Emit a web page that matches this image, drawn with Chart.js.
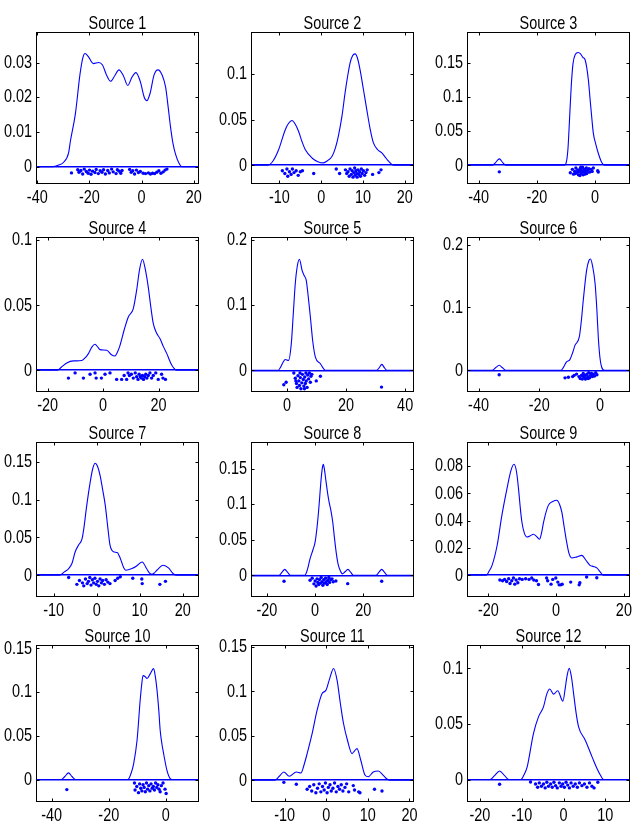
<!DOCTYPE html>
<html><head><meta charset="utf-8">
<script src="https://cdn.jsdelivr.net/npm/chart.js@4.4.1/dist/chart.umd.min.js"></script>
<style>
html,body{margin:0;padding:0;background:#fff;width:640px;height:835px;overflow:hidden;position:relative;}
canvas{position:absolute;}
</style></head><body>
<script>
// ---------- DATA ----------
const titles = ["Source 1","Source 2","Source 3","Source 4","Source 5","Source 6","Source 7","Source 8","Source 9","Source 10","Source 11","Source 12"];

const xTickVals = [[-40,-20,0,20],[-10,0,10,20],[-40,-20,0],[-20,0,20],[0,20,40],[-40,-20,0],[-10,0,10,20],[-20,0,20],[-20,0,20],[-40,-20,0],[-10,0,10,20],[-20,-10,0,10]];
const yTickVals = [[0,0.01,0.02,0.03],[0,0.05,0.1],[0,0.05,0.1,0.15],[0,0.05,0.1],[0,0.1,0.2],[0,0.1,0.2],[0,0.05,0.1,0.15],[0,0.05,0.1,0.15],[0,0.02,0.04,0.06,0.08],[0,0.05,0.1,0.15],[0,0.05,0.1,0.15],[0,0.05,0.1]];
const xLimits = [[-40.5,22],[-16.8,22.2],[-44,12],[-24.2,34.6],[-12.2,43],[-43.8,9.9],[-14.1,23.8],[-26.6,41],[-26.3,21.8],[-45.5,11.6],[-18.1,21.1],[-23.1,15.9]];
const yLimits = [[-0.005,0.0388],[-0.0205,0.146],[-0.0274,0.195],[-0.0167,0.1025],[-0.033,0.204],[-0.0345,0.212],[-0.0287,0.176],[-0.0305,0.1875],[-0.0159,0.0976],[-0.0257,0.154],[-0.0244,0.152],[-0.0202,0.121]];

// density curves [x, density]
const curve1 = [[-40.5,0],[-34,0],[-32,0.0004],[-30,0.0012],[-28,0.004],[-27.3,0.0074],[-25.4,0.0152],[-23.6,0.0268],[-22.5,0.0315],[-21.7,0.0326],[-20.5,0.0318],[-18.5,0.0297],[-16.5,0.0300],[-15,0.0293],[-13.5,0.0265],[-11.9,0.0246],[-10.3,0.0262],[-8.7,0.0279],[-7,0.0262],[-5.3,0.0234],[-3.7,0.0258],[-2.2,0.0271],[-0.5,0.0245],[1.0,0.0200],[2.0,0.0190],[3.2,0.0210],[4.8,0.0265],[6.3,0.0279],[7.8,0.0265],[9.2,0.0229],[10.2,0.0170],[11.1,0.0113],[12.0,0.0068],[13.0,0.0036],[14.2,0.0012],[15.5,0],[22,0]];
const curve2 = [[-16.8,0],[-12.8,0],[-11.5,0.005],[-10.2,0.017],[-8.6,0.039],[-7.8,0.046],[-7.0,0.049],[-6.2,0.045],[-5.4,0.037],[-4.6,0.026],[-3.8,0.017],[-2.2,0.008],[-0.8,0.004],[0.5,0.0026],[1.5,0.005],[2.6,0.0098],[3.4,0.019],[4.1,0.032],[5.0,0.055],[5.7,0.079],[6.3,0.097],[6.9,0.112],[7.5,0.120],[8.1,0.122],[8.7,0.117],[9.3,0.1045],[10.1,0.083],[10.9,0.061],[11.7,0.040],[12.5,0.0245],[13.5,0.017],[14.5,0.0135],[15.3,0.009],[16.1,0.0045],[17.3,0],[22.2,0]];
const curve3 = [[-44,0],[-35.3,0],[-34.2,0.004],[-32.9,0.0093],[-31.7,0.004],[-30.6,0],[-10.5,0],[-9.8,0.006],[-9.3,0.025],[-8.8,0.065],[-8.2,0.115],[-7.6,0.148],[-6.8,0.162],[-5.8,0.165],[-5.0,0.163],[-4.2,0.158],[-3.4,0.154],[-2.3,0.125],[-1.7,0.096],[-1.1,0.068],[-0.6,0.047],[0.3,0.030],[1.3,0.015],[2.3,0.004],[3.2,0],[12,0]];
const curve4 = [[-24.2,0],[-16.5,0],[-15,0.0025],[-13.1,0.0056],[-10.7,0.0072],[-7.7,0.0075],[-6.3,0.010],[-5.3,0.0128],[-4,0.018],[-2.9,0.020],[-1.9,0.0178],[-1.1,0.0159],[1.3,0.0154],[3,0.012],[4.3,0.011],[5.2,0.014],[6.1,0.0192],[7.6,0.031],[9.1,0.041],[10.9,0.0474],[12.1,0.0615],[13.2,0.078],[14.2,0.0854],[15.2,0.078],[16.3,0.064],[17.2,0.049],[18.1,0.036],[19.2,0.029],[20.5,0.0244],[21.8,0.018],[23.0,0.0128],[24.0,0.0075],[24.8,0.0038],[25.8,0.001],[26.5,0],[34.6,0]];
const curve5 = [[-12.2,0],[-3.0,0],[-2.3,0.004],[-1.7,0.0092],[-0.6,0.0168],[0.5,0.0153],[1.45,0.041],[2.1,0.085],[2.8,0.133],[3.5,0.160],[4.2,0.170],[5.1,0.153],[5.8,0.145],[6.5,0.138],[7.2,0.112],[7.9,0.082],[8.7,0.045],[9.6,0.0204],[11.3,0.0102],[12.3,0.003],[13,0],[30.3,0],[31.2,0.004],[32.1,0.0092],[33.0,0.004],[33.8,0],[43,0]];
const curve6 = [[-43.8,0],[-35.5,0],[-34.4,0.004],[-33.2,0.008],[-32.1,0.004],[-31,0],[-12.8,0],[-12,0.005],[-11,0.0133],[-9.9,0.017],[-9,0.028],[-8.2,0.040],[-6.8,0.053],[-6.1,0.08],[-5.5,0.111],[-4.4,0.159],[-3.6,0.175],[-3.1,0.177],[-2.4,0.165],[-1.6,0.138],[-1.0,0.095],[-0.55,0.053],[0,0.02],[0.55,0.0053],[1.5,0],[9.9,0]];
const curve7 = [[-14.1,0],[-8.6,0],[-7.5,0.0045],[-6.5,0.0089],[-5.75,0.0155],[-5.0,0.0308],[-4.2,0.040],[-3.4,0.048],[-2.9,0.065],[-2.4,0.088],[-1.5,0.123],[-0.9,0.141],[-0.35,0.148],[0.2,0.144],[0.8,0.132],[1.4,0.113],[2.0,0.0926],[2.6,0.063],[3.1,0.040],[3.9,0.031],[4.8,0.030],[5.3,0.025],[5.8,0.0176],[6.3,0.010],[6.8,0.0066],[8.2,0.0088],[9.3,0.0123],[10.6,0.0176],[11.6,0.0089],[12.2,0.0035],[12.8,0.0013],[13.4,0.003],[14.0,0.0066],[15.5,0.0132],[16.7,0.0097],[17.8,0.002],[18.6,0],[23.8,0]];
const curve8 = [[-26.6,0],[-15,0],[-13.8,0.004],[-12.6,0.0084],[-11.4,0.004],[-10.2,0],[-4.3,0],[-3.2,0.008],[-2.1,0.0234],[-0.9,0.036],[0,0.047],[0.8,0.068],[1.4,0.089],[2.0,0.115],[2.5,0.136],[3.0,0.151],[3.4,0.156],[3.9,0.148],[4.55,0.131],[5.2,0.115],[5.8,0.103],[6.6,0.090],[7.3,0.075],[8.0,0.053],[8.7,0.033],[9.5,0.016],[10.35,0.007],[11.3,0.002],[12.4,0.005],[13.6,0.0084],[14.8,0.004],[15.8,0],[25.2,0],[26.4,0.004],[27.6,0.0084],[28.8,0.004],[30,0],[41,0]];
const curve9 = [[-26.3,0],[-20.6,0],[-19.8,0.003],[-18.9,0.0073],[-17.4,0.022],[-16,0.044],[-14.5,0.0635],[-13.3,0.077],[-12.4,0.0813],[-11.7,0.076],[-11.1,0.0635],[-10.6,0.050],[-10.1,0.039],[-9.4,0.031],[-8.6,0.028],[-7.6,0.029],[-6.7,0.030],[-5.8,0.0285],[-4.9,0.0264],[-4.3,0.031],[-3.7,0.039],[-2.3,0.0512],[-1.0,0.054],[0.2,0.055],[1.0,0.052],[1.7,0.046],[2.4,0.035],[3.1,0.0244],[3.8,0.016],[4.6,0.0127],[6.1,0.0135],[7.6,0.0146],[8.8,0.011],[10.0,0.0073],[11,0.0065],[12.0,0.0054],[13,0.0025],[13.9,0],[21.8,0]];
const curve10 = [[-45.5,0],[-36.6,0],[-35.4,0.0035],[-34.1,0.0076],[-32.9,0.0035],[-31.7,0],[-13.3,0],[-12.3,0.006],[-11.3,0.018],[-10.1,0.045],[-9.0,0.091],[-8.5,0.108],[-8.0,0.119],[-7.3,0.118],[-6.6,0.1157],[-5.5,0.121],[-4.3,0.127],[-3.7,0.118],[-3.1,0.102],[-2.5,0.080],[-2.0,0.0565],[-1.4,0.041],[-0.8,0.0298],[0.35,0.0107],[1.5,0.001],[2.2,0],[11.6,0]];
const curve11 = [[-18.1,0],[-12.4,0],[-11.3,0.0045],[-10.2,0.0093],[-8.9,0.0045],[-7.2,0.0093],[-6.1,0.0082],[-5.3,0.018],[-4.6,0.030],[-3.4,0.0525],[-2.2,0.0787],[-1.0,0.0975],[-0.1,0.101],[0.8,0.114],[1.75,0.1256],[2.6,0.1125],[3.4,0.086],[4.15,0.0638],[5.1,0.045],[6.2,0.030],[6.8,0.033],[7.4,0.0356],[8.3,0.0225],[9.35,0.0056],[10.1,0.004],[11.3,0.0093],[12.5,0.0105],[13.7,0.0056],[14.6,0.0015],[15.3,0],[21.1,0]];
const curve12 = [[-23.1,0],[-17.6,0],[-16.5,0.0035],[-15.3,0.0077],[-14.1,0.0035],[-13.1,0],[-10.2,0],[-9.5,0.004],[-8.7,0.0114],[-7.2,0.0414],[-6.0,0.0564],[-4.8,0.0654],[-4.0,0.077],[-3.3,0.0814],[-2.4,0.0768],[-1.4,0.0798],[-0.15,0.0705],[0.4,0.082],[0.8,0.0924],[1.36,0.100],[1.9,0.092],[2.4,0.0775],[3.0,0.060],[3.6,0.0474],[5.2,0.0354],[6.5,0.0234],[7.3,0.016],[8.0,0.0099],[8.8,0.004],[9.55,0],[15.9,0]];

// jittered samples [x, y]
const dots1 = [[-26.9,-0.0018],[-24.5,-0.0009],[-24.0,-0.0016],[-23.3,-0.0011],[-22.6,-0.0021],[-22.0,-0.0007],[-21.2,-0.0014],[-20.5,-0.0019],[-20.0,-0.0010],[-19.4,-0.0022],[-18.8,-0.0013],[-17.9,-0.0017],[-17.4,-0.0008],[-16.6,-0.0020],[-15.9,-0.0012],[-15.2,-0.0016],[-14.6,-0.0009],[-13.9,-0.0021],[-13.0,-0.0011],[-12.4,-0.0018],[-11.5,-0.0007],[-10.9,-0.0015],[-9.8,-0.0020],[-9.3,-0.0009],[-8.6,-0.0013],[-8.0,-0.0019],[-7.5,-0.0011],[-4.6,-0.0008],[-4.0,-0.0016],[-3.4,-0.0012],[-2.7,-0.0021],[-2.0,-0.0010],[-1.2,-0.0017],[-0.5,-0.0014],[0.6,-0.0019],[1.5,-0.0020],[2.6,-0.0018],[3.4,-0.0021],[4.2,-0.0019],[5.0,-0.0020],[5.8,-0.0016],[6.6,-0.0012],[7.4,-0.0019],[8.3,-0.0015],[9.0,-0.0010],[9.7,-0.0007]];
const dots2 = [[-9.3,-0.006],[-8.7,-0.009],[-8.2,-0.004],[-8.0,-0.012],[-7.6,-0.007],[-7.2,-0.010],[-6.9,-0.004],[-6.5,-0.008],[-6.0,-0.006],[-5.5,-0.011],[-5.0,-0.007],[-4.5,-0.006],[-1.8,-0.009],[3.6,-0.004],[4.4,-0.009],[5.8,-0.005],[6.1,-0.009],[6.4,-0.007],[6.7,-0.012],[6.9,-0.004],[7.2,-0.010],[7.4,-0.006],[7.6,-0.013],[7.8,-0.008],[8.0,-0.003],[8.1,-0.011],[8.3,-0.006],[8.5,-0.009],[8.6,-0.013],[8.8,-0.005],[9.0,-0.010],[9.2,-0.007],[9.4,-0.012],[9.6,-0.004],[9.8,-0.009],[10.1,-0.006],[10.4,-0.011],[10.7,-0.008],[11.0,-0.005],[12.3,-0.010],[13.8,-0.008],[14.3,-0.005]];
const dots3 = [[-32.9,-0.0096],[-8.5,-0.011],[-7.8,-0.006],[-7.4,-0.013],[-7.0,-0.009],[-6.8,-0.012],[-6.6,-0.004],[-6.3,-0.011],[-6.0,-0.007],[-5.9,-0.010],[-5.7,-0.014],[-5.4,-0.009],[-5.2,-0.015],[-5.1,-0.005],[-4.9,-0.003],[-4.8,-0.012],[-4.6,-0.008],[-4.3,-0.003],[-4.1,-0.014],[-4.0,-0.010],[-3.8,-0.006],[-3.6,-0.009],[-3.5,-0.013],[-3.2,-0.008],[-3.0,-0.004],[-2.9,-0.012],[-2.7,-0.011],[-2.4,-0.007],[-2.1,-0.005],[-1.8,-0.010],[-1.4,-0.006],[-1.0,-0.009],[-0.6,-0.004],[0.9,-0.008],[1.1,-0.010]];
const dots4 = [[-12.5,-0.006],[-10.1,-0.002],[-7.1,-0.006],[-4.7,-0.003],[-2.9,-0.002],[-2.5,-0.006],[-0.6,-0.006],[0.7,-0.003],[2.5,-0.002],[4.9,-0.007],[6.7,-0.007],[7.6,-0.004],[8.5,-0.007],[9.0,-0.002],[9.5,-0.004],[10.2,-0.003],[10.9,-0.006],[11.6,-0.002],[12.1,-0.005],[12.6,-0.007],[13.0,-0.003],[13.4,-0.005],[13.8,-0.006],[14.2,-0.004],[14.6,-0.007],[15.0,-0.005],[15.4,-0.003],[15.8,-0.006],[16.3,-0.004],[16.9,-0.002],[17.5,-0.006],[18.1,-0.004],[19.0,-0.002],[19.9,-0.007],[21.1,-0.003],[21.6,-0.006],[22.5,-0.007]];
const dots5 = [[-1.1,-0.022],[-0.3,-0.018],[2.3,-0.004],[2.8,-0.012],[3.0,-0.016],[3.2,-0.020],[3.4,-0.026],[3.7,-0.008],[4.0,-0.016],[4.2,-0.023],[4.4,-0.004],[4.5,-0.011],[4.7,-0.028],[5.0,-0.019],[5.2,-0.006],[5.5,-0.014],[5.7,-0.024],[5.9,-0.028],[6.0,-0.010],[6.2,-0.020],[6.4,-0.004],[6.5,-0.016],[6.8,-0.026],[7.0,-0.007],[7.3,-0.013],[7.6,-0.004],[7.9,-0.018],[8.1,-0.009],[8.4,-0.006],[9.9,-0.016],[11.3,-0.009],[32.0,-0.0255]];
const dots6 = [[-33.2,-0.007],[-11.5,-0.012],[-10.4,-0.011],[-9.0,-0.010],[-8.5,-0.008],[-7.7,-0.006],[-6.9,-0.010],[-6.5,-0.013],[-6.1,-0.008],[-5.8,-0.014],[-5.7,-0.009],[-5.5,-0.005],[-5.2,-0.011],[-4.9,-0.008],[-4.8,-0.014],[-4.6,-0.013],[-4.3,-0.006],[-4.0,-0.010],[-3.9,-0.013],[-3.7,-0.004],[-3.4,-0.012],[-3.1,-0.008],[-2.8,-0.005],[-2.5,-0.010],[-2.2,-0.006],[-1.8,-0.009],[-1.4,-0.004],[-1.0,-0.007]];
const dots7 = [[-6.5,-0.003],[-4.6,-0.012],[-4.0,-0.007],[-3.3,-0.010],[-3.0,-0.014],[-2.6,-0.005],[-2.2,-0.011],[-1.9,-0.008],[-1.6,-0.003],[-1.3,-0.013],[-1.0,-0.006],[-0.7,-0.010],[-0.4,-0.004],[-0.1,-0.012],[0.2,-0.008],[0.5,-0.014],[0.8,-0.005],[1.1,-0.010],[1.4,-0.007],[1.8,-0.012],[2.2,-0.006],[2.6,-0.009],[3.1,-0.011],[4.3,-0.007],[4.9,-0.004],[5.5,-0.002],[8.4,-0.004],[10.5,-0.005],[10.6,-0.011],[14.7,-0.012],[16.0,-0.008]];
const dots8 = [[-12.9,-0.0084],[-2.1,-0.007],[-1.2,-0.004],[-0.5,-0.012],[0,-0.008],[0.4,-0.015],[0.8,-0.005],[1.1,-0.010],[1.5,-0.013],[1.8,-0.006],[2.2,-0.011],[2.5,-0.003],[2.9,-0.009],[3.2,-0.014],[3.6,-0.006],[3.9,-0.011],[4.3,-0.004],[4.6,-0.009],[5.0,-0.013],[5.3,-0.007],[5.7,-0.003],[6.0,-0.010],[6.5,-0.006],[7.0,-0.005],[7.5,-0.009],[8.6,-0.008],[13.5,-0.0117],[27.6,-0.0084]];
const dots9 = [[-16.6,-0.0035],[-15.8,-0.004],[-15.2,-0.003],[-14.6,-0.0045],[-14.0,-0.0025],[-13.6,-0.006],[-13.1,-0.004],[-12.6,-0.002],[-12.2,-0.0065],[-11.8,-0.0035],[-11.3,-0.0055],[-10.8,-0.0025],[-10.0,-0.003],[-9.0,-0.0025],[-8.0,-0.003],[-7.2,-0.002],[-6.6,-0.0035],[-5.8,-0.004],[-5.2,-0.0068],[-2.8,-0.002],[-2.5,-0.004],[-1.5,-0.0065],[-1.0,-0.003],[-0.1,-0.002],[0.5,-0.005],[0.9,-0.007],[1.4,-0.007],[1.8,-0.0065],[4.3,-0.005],[6.8,-0.007],[7.0,-0.0055],[9.0,-0.0012],[12.0,-0.0018]];
const dots10 = [[-34.7,-0.0115],[-11.0,-0.004],[-10.8,-0.012],[-10.2,-0.008],[-9.6,-0.015],[-9.2,-0.005],[-8.8,-0.010],[-8.4,-0.013],[-8.0,-0.006],[-7.6,-0.009],[-7.2,-0.014],[-6.8,-0.004],[-6.4,-0.011],[-6.0,-0.007],[-5.6,-0.013],[-5.2,-0.005],[-4.8,-0.010],[-4.4,-0.008],[-4.0,-0.012],[-3.6,-0.004],[-3.2,-0.009],[-2.8,-0.006],[-2.4,-0.011],[-2.0,-0.014],[-1.6,-0.007],[-1.0,-0.004],[-0.3,-0.011],[0.1,-0.016]];
const dots11 = [[-10.2,-0.0023],[-7.2,-0.0045],[-4.6,-0.010],[-4.0,-0.007],[-3.5,-0.012],[-3.0,-0.005],[-2.5,-0.014],[-2.1,-0.009],[-1.7,-0.004],[-1.3,-0.013],[-0.9,-0.007],[-0.5,-0.011],[-0.2,-0.003],[0.2,-0.014],[0.5,-0.008],[0.9,-0.005],[1.2,-0.012],[1.6,-0.009],[2.0,-0.003],[2.4,-0.013],[2.8,-0.007],[3.2,-0.010],[3.6,-0.005],[4.0,-0.012],[4.5,-0.008],[4.9,-0.004],[5.4,-0.013],[6.5,-0.006],[6.8,-0.011],[7.8,-0.013],[8.1,-0.014],[11.6,-0.010],[13.4,-0.012]];
const dots12 = [[-15.3,-0.0043],[-7.9,-0.0022],[-6.7,-0.004],[-6.2,-0.007],[-5.8,-0.003],[-5.3,-0.006],[-4.8,-0.004],[-4.4,-0.0075],[-4.0,-0.0025],[-3.6,-0.006],[-3.1,-0.004],[-2.7,-0.007],[-2.3,-0.0025],[-1.9,-0.0055],[-1.5,-0.0075],[-1.0,-0.003],[-0.6,-0.006],[-0.2,-0.004],[0.2,-0.007],[0.6,-0.0025],[1.0,-0.005],[1.4,-0.0075],[1.8,-0.003],[2.3,-0.006],[2.8,-0.004],[3.3,-0.007],[3.8,-0.003],[4.4,-0.0055],[5.0,-0.004],[5.6,-0.007],[6.2,-0.003],[6.8,-0.006],[7.3,-0.0075],[8.2,-0.0025]];

const curves = [curve1,curve2,curve3,curve4,curve5,curve6,curve7,curve8,curve9,curve10,curve11,curve12];
const dotSets = [dots1,dots2,dots3,dots4,dots5,dots6,dots7,dots8,dots9,dots10,dots11,dots12];

// ---------- LAYOUT ----------
const colLeft = [36, 251, 467];
const rowTop = [32, 237, 442, 645];
const rowH = [152, 155, 155, 157];
const boxW = 163;
const YAXW = 36, XAXH = 32, TITLEH = 30, PADR = 10, TICKLEN = 3;
const FONT = "'Liberation Sans','Helvetica',Arial,sans-serif";
const FONTSIZE = 19;
const TEXT_SX = 0.76;   // horizontal condensing of text (narrow Helvetica look)
const BLUE = '#0000ff';

const boxPlugin = {
  id: 'matlabBox',
  afterDraw(chart) {
    const {ctx, chartArea: a, scales: {x, y}} = chart;
    ctx.save();
    ctx.strokeStyle = '#000';
    ctx.lineWidth = 1;
    const L = Math.round(a.left) + 0.5, R = Math.round(a.right) - 0.5;
    const T = Math.round(a.top) + 0.5, B = Math.round(a.bottom) - 0.5;
    ctx.strokeRect(L, T, R - L, B - T);
    ctx.beginPath();
    x.ticks.forEach(t => {
      const p = Math.round(x.getPixelForValue(t.value)) + 0.5;
      ctx.moveTo(p, B); ctx.lineTo(p, B - TICKLEN);
      ctx.moveTo(p, T); ctx.lineTo(p, T + TICKLEN);
    });
    y.ticks.forEach(t => {
      const p = Math.round(y.getPixelForValue(t.value)) + 0.5;
      ctx.moveTo(L, p); ctx.lineTo(L + TICKLEN, p);
      ctx.moveTo(R, p); ctx.lineTo(R - TICKLEN, p);
    });
    ctx.stroke();
    ctx.restore();
  }
};

const fmt = v => String(Math.round(v * 10000) / 10000);

for (let i = 0; i < 12; i++) {
  const r = Math.floor(i / 3), c = i % 3;
  const cv = document.createElement('canvas');
  const w = YAXW + boxW + PADR, h = TITLEH + rowH[r] + XAXH;
  cv.width = w; cv.height = h;
  cv.style.left = (colLeft[c] - YAXW) + 'px';
  cv.style.top = (rowTop[r] - TITLEH) + 'px';
  cv.style.width = w + 'px'; cv.style.height = h + 'px';
  document.body.appendChild(cv);
  // condensed text rendering around the anchor point
  const ctx = cv.getContext('2d');
  const nativeFill = ctx.fillText;
  ctx.fillText = function (text, x, y) {
    this.save(); this.translate(x, y); this.scale(TEXT_SX, 1);
    nativeFill.call(this, text, 0, 0);
    this.restore();
  };
  new Chart(cv, {
    type: 'scatter',
    data: {
      datasets: [
        { data: curves[i].map(p => ({x: p[0], y: p[1]})), showLine: true, borderColor: BLUE,
          borderWidth: 1.1, pointRadius: 0, cubicInterpolationMode: 'monotone', order: 2 },
        { data: dotSets[i].map(p => ({x: p[0], y: p[1]})), showLine: false, pointRadius: 1.7,
          pointBackgroundColor: BLUE, pointBorderWidth: 0, order: 1 }
      ]
    },
    options: {
      responsive: false, animation: false, devicePixelRatio: 1,
      layout: { padding: { left: 0, right: PADR, top: 0, bottom: 0 } },
      plugins: {
        legend: { display: false }, tooltip: { enabled: false },
        title: { display: true, fullSize: false, text: titles[i], color: '#000',
          font: { family: FONT, size: FONTSIZE, weight: 'normal', lineHeight: '15px' },
          padding: { top: 14, bottom: 1 } }
      },
      scales: {
        x: {
          type: 'linear', min: xLimits[i][0], max: xLimits[i][1],
          grid: { display: false, drawTicks: false }, border: { display: false },
          ticks: { color: '#000', font: { family: FONT, size: FONTSIZE, lineHeight: '22px' }, padding: 3, maxRotation: 0, autoSkip: false, callback: fmt },
          afterBuildTicks: s => { s.ticks = xTickVals[i].map(v => ({ value: v })); },
          afterFit: s => { s.height = XAXH; s.paddingLeft = 0; s.paddingRight = 0; }
        },
        y: {
          type: 'linear', min: yLimits[i][0], max: yLimits[i][1],
          // zero baseline drawn as the y grid line at value 0
          grid: { display: true, drawTicks: false, drawOnChartArea: true,
                  color: g => (g.tick && g.tick.value === 0) ? BLUE : 'rgba(0,0,0,0)', lineWidth: 1.6 },
          border: { display: false },
          ticks: { color: '#000', font: { family: FONT, size: FONTSIZE }, padding: 4, autoSkip: false, callback: fmt },
          afterBuildTicks: s => { s.ticks = yTickVals[i].map(v => ({ value: v })); },
          afterFit: s => { s.width = YAXW; s.paddingTop = 0; s.paddingBottom = 0; }
        }
      }
    },
    plugins: [boxPlugin]
  });
}
</script>
</body></html>
